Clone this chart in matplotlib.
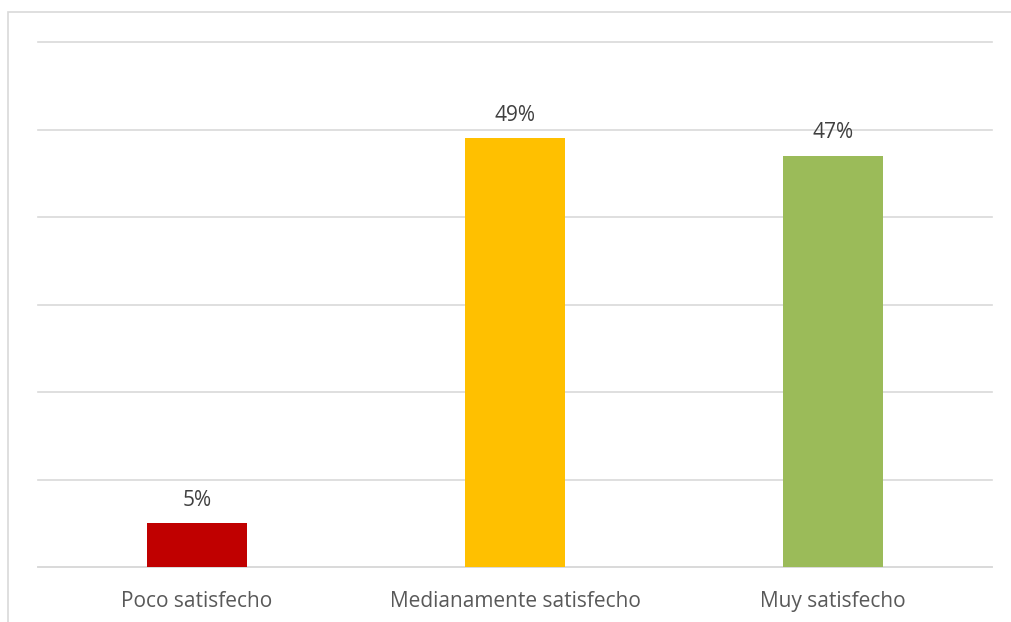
import matplotlib
matplotlib.use("Agg")
import matplotlib.pyplot as plt
from matplotlib.patches import Rectangle

categories = ["Poco satisfecho", "Medianamente satisfecho", "Muy satisfecho"]
values = [0.05, 0.49, 0.47]
labels = ["5%", "49%", "47%"]
colors = ["#C00000", "#FFC000", "#9BBB59"]

W, H = 1011, 622
fig = plt.figure(figsize=(W / 100, H / 100), dpi=100)
fig.patch.set_facecolor("white")

# outer chart border
fig.patches.append(Rectangle((8 / W, -0.1), 1.2, (H - 12) / H + 0.1,
                             transform=fig.transFigure, fill=False,
                             edgecolor="#D9D9D9", linewidth=1.2))

ax = fig.add_axes([38 / W, (H - 567) / H, (992 - 38) / W, (567 - 42) / H])
x = range(len(categories))
ax.bar(x, values, width=0.315, color=colors, zorder=3)
ax.set_xlim(-0.5, 2.5)
ax.set_ylim(0, 0.6)
ax.set_yticks([i / 10 for i in range(7)])
ax.yaxis.grid(True, color="#D9D9D9", linewidth=1.2, zorder=0)
for gl in ax.get_ygridlines():
    gl.set_clip_on(False)
ax.set_axisbelow(True)
ax.tick_params(axis="y", left=False, labelleft=False)
ax.tick_params(axis="x", bottom=False, pad=14, labelsize=15, labelcolor="#595959")
ax.set_xticks(list(x))
ax.set_xticklabels(categories, fontfamily="Open Sans")
for s in ["left", "right", "top"]:
    ax.spines[s].set_visible(False)
ax.spines["bottom"].set_color("#D9D9D9")
ax.spines["bottom"].set_linewidth(1.2)

for xi, v, lab in zip(x, values, labels):
    ax.annotate(lab, (xi, v), xytext=(0, 12.5), textcoords="offset points",
                ha="center", va="baseline", fontsize=15, color="#404040",
                fontfamily="Open Sans")

fig.savefig("out.png", dpi=100)
